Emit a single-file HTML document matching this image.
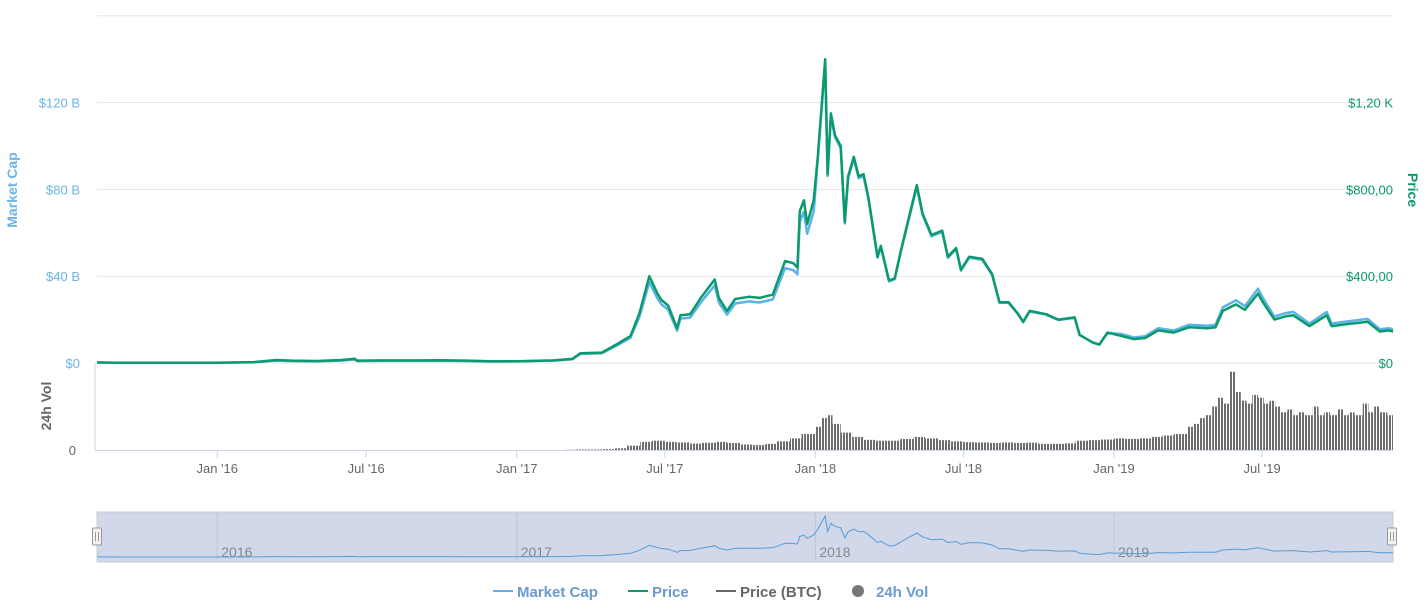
<!DOCTYPE html>
<html><head><meta charset="utf-8"><style>
body{margin:0;background:#fff;width:1427px;height:607px;overflow:hidden;font-family:"Liberation Sans",sans-serif}
svg text{font-family:"Liberation Sans",sans-serif}
</style></head><body>
<svg id="c" width="1427" height="607" xmlns="http://www.w3.org/2000/svg">
<defs><pattern id="stripes" width="3" height="4" patternUnits="userSpaceOnUse"><rect width="2" height="4" fill="#6d6d6d"/></pattern></defs>
</svg>
<script>
const priceDates=["2015-08-07","2015-09-01","2015-11-01","2016-01-01","2016-02-15","2016-03-13","2016-04-01","2016-05-01","2016-06-01","2016-06-17","2016-06-20","2016-07-20","2016-09-01","2016-10-01","2016-11-01","2016-12-01","2017-01-01","2017-02-15","2017-03-10","2017-03-20","2017-04-15","2017-05-05","2017-05-20","2017-05-31","2017-06-12","2017-06-22","2017-06-27","2017-07-05","2017-07-16","2017-07-20","2017-08-01","2017-08-14","2017-08-31","2017-09-05","2017-09-15","2017-09-25","2017-10-12","2017-10-25","2017-11-10","2017-11-25","2017-12-05","2017-12-10","2017-12-13","2017-12-18","2017-12-22","2017-12-30","2018-01-04","2018-01-09","2018-01-13","2018-01-16","2018-01-20","2018-01-25","2018-02-01","2018-02-06","2018-02-10","2018-02-17","2018-02-23","2018-03-01","2018-03-07","2018-03-18","2018-03-22","2018-04-01","2018-04-08","2018-04-15","2018-04-24","2018-05-05","2018-05-12","2018-05-23","2018-06-05","2018-06-12","2018-06-22","2018-06-28","2018-07-08","2018-07-24","2018-08-05","2018-08-14","2018-08-25","2018-09-05","2018-09-12","2018-09-20","2018-10-10","2018-10-25","2018-11-14","2018-11-20","2018-12-06","2018-12-14","2018-12-24","2019-01-10","2019-01-25","2019-02-08","2019-02-24","2019-03-15","2019-04-03","2019-04-25","2019-05-05","2019-05-14","2019-05-30","2019-06-10","2019-06-26","2019-07-02","2019-07-16","2019-07-30","2019-08-08","2019-08-28","2019-09-18","2019-09-24","2019-10-15","2019-10-27","2019-11-07","2019-11-22","2019-12-03","2019-12-08"];
const priceValues=[2.8,1.3,1.0,0.95,4,14,11,9,14,20,11,12,12,13,11,8,8,12,19,45,48,90,125,230,400,320,290,265,160,220,225,300,385,300,240,295,305,300,315,470,460,440,700,750,640,750,950,1200,1400,870,1150,1050,1000,650,860,950,860,870,760,490,540,380,390,510,650,820,690,590,610,490,530,430,490,480,410,280,280,230,190,240,225,200,210,130,95,85,140,125,110,115,150,140,165,160,165,240,270,245,320,280,200,215,220,170,220,170,180,185,190,145,150,145];
const supplyYears=[2015,2016,2017,2018,2019];
const supplyMillions=[72,80,93,99,107];
const volDates=["2017-03-01","2017-03-15","2017-04-01","2017-04-15","2017-05-01","2017-05-15","2017-06-01","2017-06-15","2017-07-01","2017-07-15","2017-08-01","2017-08-15","2017-09-01","2017-09-15","2017-10-01","2017-10-15","2017-11-01","2017-11-15","2017-12-01","2017-12-15","2018-01-01","2018-01-08","2018-01-15","2018-01-22","2018-02-01","2018-02-15","2018-03-01","2018-03-15","2018-04-01","2018-04-15","2018-05-01","2018-05-15","2018-06-01","2018-06-15","2018-07-01","2018-07-15","2018-08-01","2018-08-15","2018-09-01","2018-09-15","2018-10-01","2018-10-15","2018-11-01","2018-11-15","2018-12-01","2018-12-15","2019-01-01","2019-01-15","2019-02-01","2019-02-15","2019-03-01","2019-03-15","2019-04-01","2019-04-08","2019-04-15","2019-04-22","2019-05-01","2019-05-08","2019-05-15","2019-05-22","2019-05-29","2019-06-05","2019-06-12","2019-06-19","2019-06-26","2019-07-03","2019-07-10","2019-07-17","2019-07-24","2019-08-01","2019-08-08","2019-08-15","2019-08-22","2019-09-01","2019-09-08","2019-09-15","2019-09-22","2019-10-01","2019-10-08","2019-10-15","2019-10-22","2019-11-01","2019-11-08","2019-11-15","2019-11-22","2019-12-01"];
const volValues=[0.1,0.2,0.2,0.3,0.6,1.5,2.8,3.2,2.8,2.6,2.2,2.5,2.8,2.4,1.9,1.7,2.1,3.0,4.0,5.5,8,11,12,9,6,4.5,3.5,3.2,3.2,3.8,4.5,4,3.4,3.0,2.7,2.6,2.4,2.6,2.4,2.5,2.1,2.1,2.3,3.2,3.4,3.6,4.0,3.8,4.0,4.5,5.0,5.5,8,9,11,12,15,18,16,27,20,17,16,19,18,16,17,15,13,14,12,13,12,15,12,13,12,14,12,13,12,16,13,15,13,12];
const leftTicks=["$0","$40 B","$80 B","$120 B"];
const rightTicks=["$0","$400,00","$800,00","$1,20 K"];
const xTickLabels=["Jan '16","Jul '16","Jan '17","Jul '17","Jan '18","Jul '18","Jan '19","Jul '19"];
const xTickDates=["2016-01-01","2016-07-01","2017-01-01","2017-07-01","2018-01-01","2018-07-01","2019-01-01","2019-07-01"];
const navLabels=["2016","2017","2018","2019"];
const navDates=["2016-01-01","2017-01-01","2018-01-01","2019-01-01"];

const svg=document.getElementById('c');const NS='http://www.w3.org/2000/svg';
function mk(t,a,txt){const e=document.createElementNS(NS,t);for(const k in a)e.setAttribute(k,a[k]);if(txt!=null)e.textContent=txt;svg.appendChild(e);return e;}
const T0=Date.parse("2015-08-07"),T1=Date.parse("2019-12-08");
const X=d=>97+(Date.parse(d)-T0)/(T1-T0)*1296;
const Yp=p=>363-p*(86.8/400);
const Ym=b=>363-b*(86.8/40);
const Yv=v=>450-v*(87/30);
const Yn=p=>557-p*(41/1400);
function supplyAt(d){const y=+d.slice(0,4);return supplyMillions[supplyYears.indexOf(y)];}

[0,1,2,3,4].forEach(i=>{const y=363-i*86.8;const g=mk('line',{x1:97,x2:1393,y1:y,y2:y,stroke:'#e6e6e6','stroke-width':1});
});
leftTicks.forEach((t,i)=>{const e=mk('text',{x:80,y:363-i*86.8+5,'text-anchor':'end','font-size':13,fill:'#6cb4e6'},t);
});
rightTicks.forEach((t,i)=>{const e=mk('text',{x:1393,y:363-i*86.8+5,'text-anchor':'end','font-size':13,fill:'#0b9a6c'},t);
});
let e;
e=mk('text',{x:0,y:0,transform:'translate(17,190) rotate(-90)','text-anchor':'middle','font-size':14,'font-weight':'bold',fill:'#6cb4e6'},'Market Cap');

e=mk('text',{x:0,y:0,transform:'translate(1408,190) rotate(90)','text-anchor':'middle','font-size':14,'font-weight':'bold',fill:'#0b9a6c'},'Price');

e=mk('text',{x:0,y:0,transform:'translate(51,406) rotate(-90)','text-anchor':'middle','font-size':14,'font-weight':'bold',fill:'#666'},'24h Vol');

e=mk('text',{x:76,y:455,'text-anchor':'end','font-size':13,fill:'#666'},'0');

e=mk('line',{x1:95,x2:95,y1:363,y2:450,stroke:'#ccd6eb'});
e=mk('line',{x1:95,x2:1393,y1:450.5,y2:450.5,stroke:'#ccd6eb'});
xTickDates.forEach((d,i)=>{const x=X(d);
const t=mk('line',{x1:x,x2:x,y1:450,y2:458,stroke:'#ccd6eb'});
const l=mk('text',{x:x,y:473,'text-anchor':'middle','font-size':13,fill:'#666'},xTickLabels[i]);});
volDates.forEach((d,i)=>{const x=X(d);const w=(i<volDates.length-1?X(volDates[i+1]):1393)-x;const y=Yv(volValues[i]);
const r=mk('rect',{x:x,y:y,width:w,height:450-y,fill:'url(#stripes)'});});
let pm=priceDates.map((d,i)=>X(d).toFixed(1)+','+Ym(priceValues[i]*supplyAt(d)/1000).toFixed(1)).join(' ');
e=mk('polyline',{points:pm,fill:'none',stroke:'#5bb3ea','stroke-width':2.5,'stroke-linejoin':'round'});

let pp=priceDates.map((d,i)=>X(d).toFixed(1)+','+Yp(priceValues[i]).toFixed(1)).join(' ');
e=mk('polyline',{points:pp,fill:'none',stroke:'#0b9a6c','stroke-width':2.5,'stroke-linejoin':'round'});

e=mk('rect',{x:97,y:512,width:1296,height:50,fill:'#d0d8ea',stroke:'#ccc'});
navDates.forEach((d,i)=>{const x=X(d);
const l=mk('line',{x1:x,x2:x,y1:512,y2:562,stroke:'#bfc8d8'});
const t=mk('text',{x:x+4,y:557,'font-size':14,fill:'#888'},navLabels[i]);});
let pn=priceDates.map((d,i)=>X(d).toFixed(1)+','+Yn(priceValues[i]).toFixed(1)).join(' ');
e=mk('polyline',{points:pn,fill:'none',stroke:'#5b9bd5','stroke-width':1});
[97,1392].forEach(x=>{const h=mk('rect',{x:x-4.5,y:528,width:9,height:17,rx:1,fill:'#f2f2f2',stroke:'#999'});

mk('line',{x1:x-1.5,x2:x-1.5,y1:532,y2:541,stroke:'#999'});mk('line',{x1:x+1.5,x2:x+1.5,y1:532,y2:541,stroke:'#999'});});
const leg=[["Market Cap","#5bb3ea","#6a9ad0",493],["Price","#0b9a6c","#6a9ad0",628],["Price (BTC)","#666","#666",716],["24h Vol","#777","#6a9ad0",851]];
leg.forEach((l,i)=>{const x=l[3];
const g=document.createElementNS(NS,'g');svg.appendChild(g);
let s;
if(i<3){s=document.createElementNS(NS,'line');s.setAttribute('x1',x);s.setAttribute('x2',x+20);s.setAttribute('y1',591);s.setAttribute('y2',591);s.setAttribute('stroke',l[1]);s.setAttribute('stroke-width',2);}
else{s=document.createElementNS(NS,'circle');s.setAttribute('cx',x+7);s.setAttribute('cy',591);s.setAttribute('r',6);s.setAttribute('fill',l[1]);}
g.appendChild(s);
const t=document.createElementNS(NS,'text');t.setAttribute('x',i<3?x+24:x+25);t.setAttribute('y',597);t.setAttribute('font-size',15);t.setAttribute('font-weight','bold');t.setAttribute('fill',l[2]);t.textContent=l[0];g.appendChild(t);});
</script>
</body></html>
